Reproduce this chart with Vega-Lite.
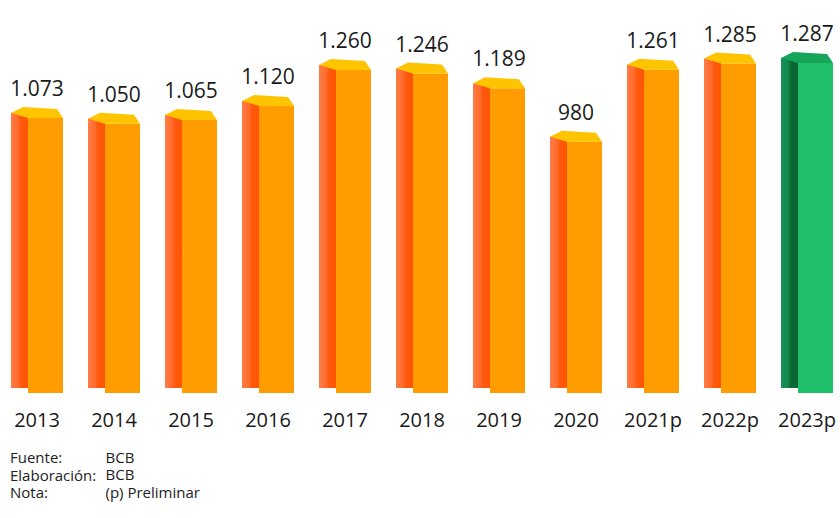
{
  "$schema": "https://vega.github.io/schema/vega-lite/v6.json",
  "width": 840,
  "height": 393,
  "autosize": "none",
  "padding": {"left": 0, "top": 0, "right": 0, "bottom": 125},
  "background": "white",
  "config": {
    "view": {"stroke": null},
    "font": "Open Sans",
    "locale": {"number": {"decimal": ",", "thousands": ".", "grouping": [3], "currency": ["$", ""]}}
  },
  "title": {
    "text": ["Fuente:", "Elaboración:", "Nota:"],
    "orient": "bottom",
    "anchor": "start",
    "frame": "group",
    "fontSize": 15,
    "fontWeight": "normal",
    "color": "#222222",
    "lineHeight": 17.5,
    "offset": -49,
    "dx": 10
  },
  "data": {
    "values": [
      {"anio": "2013", "valor": 1073, "tipo": "observado"},
      {"anio": "2014", "valor": 1050, "tipo": "observado"},
      {"anio": "2015", "valor": 1065, "tipo": "observado"},
      {"anio": "2016", "valor": 1120, "tipo": "observado"},
      {"anio": "2017", "valor": 1260, "tipo": "observado"},
      {"anio": "2018", "valor": 1246, "tipo": "observado"},
      {"anio": "2019", "valor": 1189, "tipo": "observado"},
      {"anio": "2020", "valor": 980, "tipo": "observado"},
      {"anio": "2021p", "valor": 1261, "tipo": "observado"},
      {"anio": "2022p", "valor": 1285, "tipo": "observado"},
      {"anio": "2023p", "valor": 1287, "tipo": "actual"}
    ]
  },
  "encoding": {
    "x": {
      "field": "anio",
      "type": "ordinal",
      "sort": null,
      "scale": {"range": [-1.5, 845.5], "paddingInner": 0.325, "paddingOuter": 0.1625},
      "axis": {
        "domain": false,
        "ticks": false,
        "labelAngle": 0,
        "labelFontSize": 20,
        "labelColor": "#1a1a1a",
        "labelPadding": 17,
        "title": ["BCB", "BCB", "(p) Preliminar"],
        "titleAnchor": "start",
        "titleAlign": "left",
        "titleBaseline": "top",
        "titleX": 105,
        "titleY": 57,
        "titleFontSize": 15,
        "titleFontWeight": "normal",
        "titleLineHeight": 17.5,
        "titleColor": "#222222"
      }
    },
    "y": {
      "field": "valor",
      "type": "quantitative",
      "scale": {"domain": [0, 1533], "nice": false},
      "axis": null
    }
  },
  "layer": [
    {
      "mark": {"type": "bar", "width": 17, "xOffset": -17.5, "yOffset": -5, "y2Offset": -4},
      "encoding": {
        "color": {
          "condition": {
            "test": "datum.tipo === 'actual'",
            "value": {"gradient": "linear", "x1": 0, "x2": 1, "y1": 0, "y2": 0, "stops": [
              {"offset": 0, "color": "#17935a"}, {"offset": 0.45, "color": "#128549"},
              {"offset": 0.55, "color": "#0b6b35"}, {"offset": 1, "color": "#0a6431"}]}
          },
          "value": {"gradient": "linear", "x1": 0, "x2": 1, "y1": 0, "y2": 0, "stops": [
            {"offset": 0, "color": "#ff7c48"}, {"offset": 0.45, "color": "#ff6a2a"},
            {"offset": 0.55, "color": "#ff5a10"}, {"offset": 1, "color": "#ff5500"}]}
        }
      }
    },
    {
      "mark": {"type": "bar", "width": 35, "xOffset": 8.5},
      "encoding": {
        "color": {
          "condition": {"test": "datum.tipo === 'actual'", "value": "#1ebe6b"},
          "value": "#ff9c00"
        }
      }
    },
    {
      "mark": {
        "type": "point",
        "filled": true,
        "opacity": 1,
        "size": 4,
        "strokeWidth": 0,
        "shape": "M-9,0L26,0L20,-9L-14,-11L-26,-5Z"
      },
      "encoding": {
        "fill": {
          "condition": {"test": "datum.tipo === 'actual'", "value": "#16a65a"},
          "value": "#ffc400"
        }
      }
    },
    {
      "mark": {"type": "text", "dy": -22, "baseline": "alphabetic", "fontSize": 21, "color": "#1a1a1a"},
      "encoding": {
        "text": {"field": "valor", "type": "quantitative", "format": ",d"}
      }
    }
  ]
}
